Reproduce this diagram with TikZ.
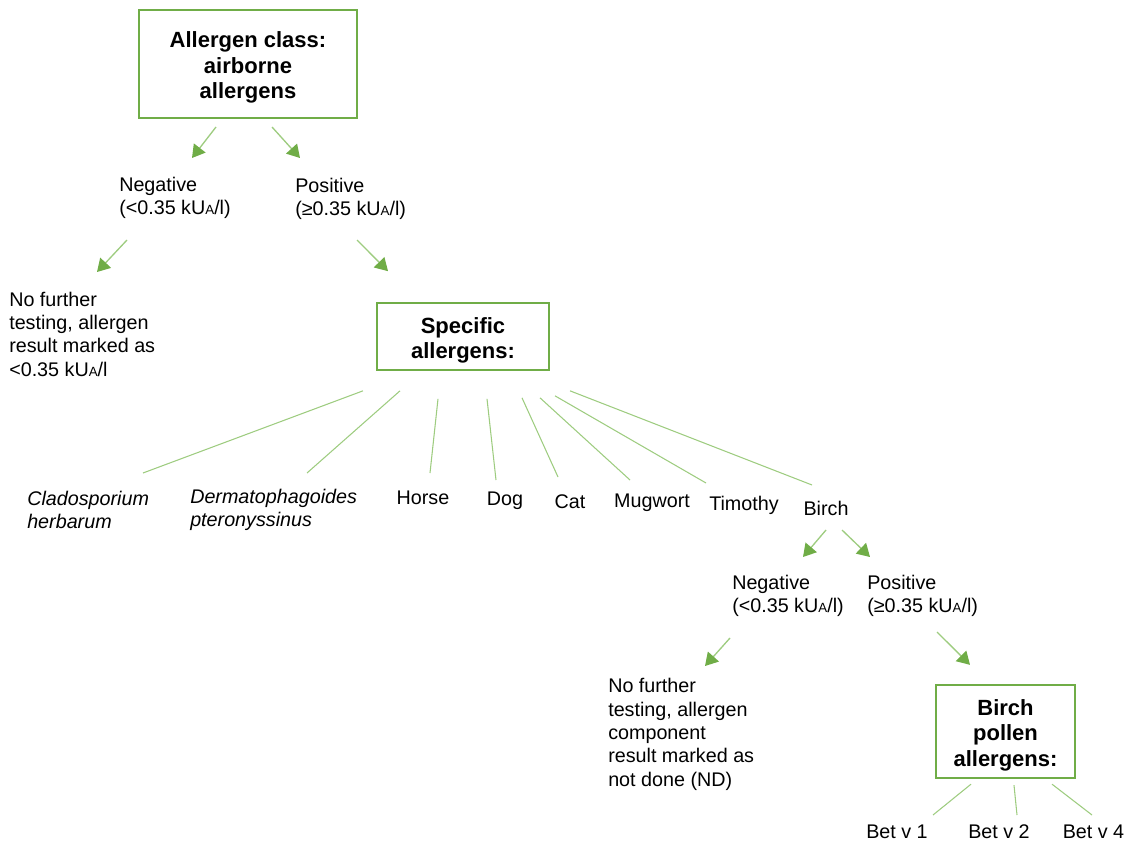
\documentclass[tikz,border=0pt]{standalone}
\usepackage{fontspec}
\setmainfont{Liberation Sans}
\usetikzlibrary{arrows.meta,positioning}
\definecolor{BoxClr}{rgb}{0.4392,0.6784,0.2784}
\definecolor{LineClr}{rgb}{0.62,0.80,0.50}
\newcommand{\kUAl}{kU{\fontsize{10pt}{10pt}\selectfont A}/l}
\newcommand{\topgap}{\rule{0pt}{17.5pt}}

\tikzset{
  txt/.style={inner sep=0pt,font=\fontsize{14.8pt}{17.5pt}\selectfont},
  lefttxt/.style={txt,anchor=west,align=left},
  itm/.style={txt,font=\fontsize{14.8pt}{17.5pt}\selectfont\itshape,anchor=west,align=left},
  clsbox/.style={draw=BoxClr,line width=1.5pt,align=center,
    font=\fontsize{16.5pt}{19pt}\selectfont\bfseries},
  arr/.style={draw=LineClr,line width=1pt,
    -{Triangle[length=9.5pt,width=11pt,fill=BoxClr,color=BoxClr]}},
  fan/.style={draw=LineClr,line width=0.8pt}
}

\begin{document}
\begin{tikzpicture}[x=0.75pt,y=-0.75pt]
\useasboundingbox (0,0) rectangle (1127,841);

% allergen class
\node[clsbox,minimum width=163.5pt,minimum height=81pt] (cls) at (248,64)
  {\topgap Allergen class:\\airborne\\allergens};
\node[lefttxt] (neg1) at (119,198) {Negative\\(<0.35 \kUAl)};
\node[lefttxt] (pos1) at (295,199) {Positive\\(≥0.35 \kUAl)};
\node[lefttxt] (nf1) at (9,334)
  {No further\\testing, allergen\\result marked as\\<0.35 \kUAl};

% specific allergens
\node[clsbox,minimum width=129pt,minimum height=50pt] (spec) at (463,336.5)
  {\topgap Specific\\allergens:};

\node[itm] (clad) at (27,510) {Cladosporium\\herbarum};
\node[itm] (derm) at (190,510) {Dermatophagoides\\pteronyssinus};
\node[txt] (horse) at (423,498) {Horse};
\node[txt] (dog) at (505,501) {Dog};
\node[txt] (cat) at (570,502) {Cat};
\node[txt] (mug) at (652,503) {Mugwort};
\node[txt] (tim) at (744,505) {Timothy};
\node[txt] (birch) at (826,508) {Birch};

% birch
\node[lefttxt] (neg2) at (732,596) {Negative\\(<0.35 \kUAl)};
\node[lefttxt] (pos2) at (867,596) {Positive\\(≥0.35 \kUAl)};
\node[lefttxt] (nf2) at (608,734.5)
  {No further\\testing, allergen\\component\\result marked as\\not done (ND)};
\node[clsbox,minimum width=104pt,minimum height=70pt] (bpa) at (1005.5,731.5)
  {\topgap Birch\\pollen\\allergens:};

\node[txt] (bet1) at (897,832) {Bet v 1};
\node[txt] (bet2) at (999,832) {Bet v 2};
\node[txt] (bet4) at (1093.5,832) {Bet v 4};

% arrows
\draw[arr] ([shift={(-32,8)}]cls.south) -- ([shift={(73,-40)}]neg1.west);
\draw[arr] ([shift={(24,8)}]cls.south) -- ([shift={(5,-41)}]pos1.west);
\draw[arr] ([shift={(8,42)}]neg1.west) -- ([shift={(88,-62)}]nf1.west);
\draw[arr] ([shift={(62,41)}]pos1.west) -- ([shift={(-75,-31)}]spec.north);

\draw[arr] ([shift={(0,22)}]birch.center) -- ([shift={(71,-39)}]neg2.west);
\draw[arr] ([shift={(16,22)}]birch.center) -- ([shift={(3,-39)}]pos2.west);
\draw[arr] ([shift={(-2,42)}]neg2.west) -- ([shift={(97,-68.5)}]nf2.west);
\draw[arr] ([shift={(70,36)}]pos2.west) -- ([shift={(-35.5,-19)}]bpa.north);

% fan lines
\draw[fan] ([shift={(-100,20)}]spec.south) -- ([shift={(116,-37)}]clad.west);
\draw[fan] ([shift={(-63,20)}]spec.south) -- ([shift={(117,-37)}]derm.west);
\draw[fan] ([shift={(-25,28)}]spec.south) -- ([shift={(7,-25)}]horse.center);
\draw[fan] ([shift={(24,28)}]spec.south) -- ([shift={(-9,-21)}]dog.center);
\draw[fan] ([shift={(59,27)}]spec.south) -- ([shift={(-12,-25)}]cat.center);
\draw[fan] ([shift={(77,27)}]spec.south) -- ([shift={(-22,-23)}]mug.center);
\draw[fan] ([shift={(92,25)}]spec.south) -- ([shift={(-38,-22)}]tim.center);
\draw[fan] ([shift={(107,20)}]spec.south) -- ([shift={(-14,-23)}]birch.center);

\draw[fan] ([shift={(-34.5,5)}]bpa.south) -- ([shift={(36,-17)}]bet1.center);
\draw[fan] ([shift={(8.5,6)}]bpa.south) -- ([shift={(18,-17)}]bet2.center);
\draw[fan] ([shift={(46.5,5)}]bpa.south) -- ([shift={(-1.5,-17)}]bet4.center);

\end{tikzpicture}
\end{document}
